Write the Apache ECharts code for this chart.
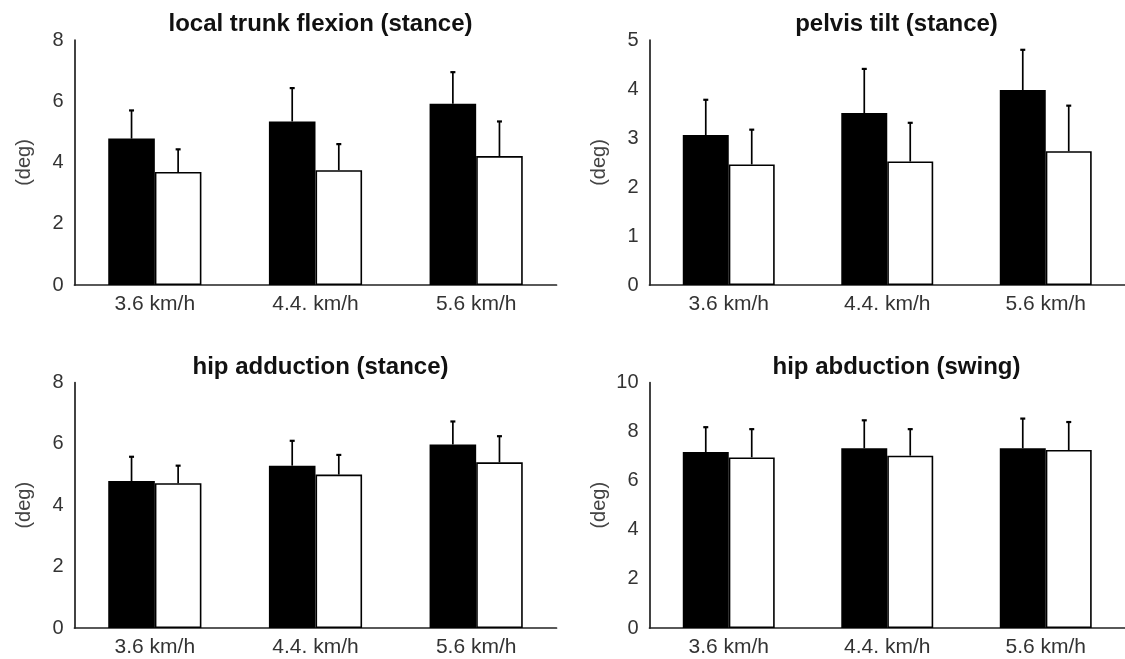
<!DOCTYPE html>
<html>
<head>
<meta charset="utf-8">
<script src="https://cdn.jsdelivr.net/npm/echarts@6/dist/echarts.min.js"></script>
<style>
html,body{margin:0;padding:0;background:#fff;}
#c{width:1125px;height:659px;}
</style>
</head>
<body>
<div id="c"></div>
<script>
// ---- data ----
const categories = ['3.6 km/h', '4.4. km/h', '5.6 km/h'];
const titles = ['local trunk flexion (stance)', 'pelvis tilt (stance)', 'hip adduction (stance)', 'hip abduction (swing)'];
const yMax = [8, 5, 8, 10];
const yInterval = [2, 1, 2, 2];

const trunkBlack = [4.78, 5.34, 5.92];
const trunkBlackSD = [0.92, 1.09, 1.03];
const trunkWhite = [3.69, 3.75, 4.21];
const trunkWhiteSD = [0.74, 0.85, 1.13];

const pelvisBlack = [3.06, 3.51, 3.98];
const pelvisBlackSD = [0.72, 0.90, 0.82];
const pelvisWhite = [2.46, 2.52, 2.73];
const pelvisWhiteSD = [0.71, 0.79, 0.93];

const hipAddBlack = [4.79, 5.29, 5.98];
const hipAddBlackSD = [0.79, 0.81, 0.75];
const hipAddWhite = [4.72, 5.00, 5.40];
const hipAddWhiteSD = [0.57, 0.64, 0.85];

const hipAbdBlack = [7.17, 7.32, 7.32];
const hipAbdBlackSD = [1.01, 1.14, 1.21];
const hipAbdWhite = [6.95, 7.02, 7.25];
const hipAbdWhiteSD = [1.15, 1.08, 1.14];

const panels = [
  {black: trunkBlack, blackSD: trunkBlackSD, white: trunkWhite, whiteSD: trunkWhiteSD},
  {black: pelvisBlack, blackSD: pelvisBlackSD, white: pelvisWhite, whiteSD: pelvisWhiteSD},
  {black: hipAddBlack, blackSD: hipAddBlackSD, white: hipAddWhite, whiteSD: hipAddWhiteSD},
  {black: hipAbdBlack, blackSD: hipAbdBlackSD, white: hipAbdWhite, whiteSD: hipAbdWhiteSD}
];

// ---- layout ----
const FONT = '"Liberation Sans", Arial, Helvetica, sans-serif';
const BAR_FRAC = 0.29;
const grids = [
  {left: 74.5, width: 482, top: 40, height: 245},
  {left: 649.5, width: 484, top: 40, height: 245},
  {left: 74.5, width: 482, top: 382.5, height: 245.5},
  {left: 649.5, width: 484, top: 382.5, height: 245.5}
];
const titleTops = [7, 7, 350, 350];

const chart = echarts.init(document.getElementById('c'), null, {renderer: 'canvas'});

function errRender(side) {
  return function (params, api) {
    const x = api.value(0), m = api.value(1), s = api.value(2);
    const band = api.size([1, 0])[0];
    const off = side * band * BAR_FRAC / 2;
    const p0 = api.coord([x, m]);
    const p1 = api.coord([x, m + s]);
    const cx = p0[0] + off;
    return {
      type: 'group',
      children: [
        {type: 'line', shape: {x1: cx, y1: p0[1], x2: cx, y2: p1[1]}, style: {stroke: '#000', lineWidth: 1.7}},
        {type: 'line', shape: {x1: cx - 2.5, y1: p1[1], x2: cx + 2.5, y2: p1[1]}, style: {stroke: '#000', lineWidth: 2.2}}
      ]
    };
  };
}

const option = {
  backgroundColor: '#fff',
  animation: false,
  title: titles.map((t, i) => ({
    text: t,
    left: grids[i].left + grids[i].width / 2,
    textAlign: 'center',
    top: titleTops[i],
    textStyle: {fontFamily: FONT, fontSize: 24, fontWeight: 'bold', color: '#111'}
  })),
  grid: grids.map(g => ({left: g.left, width: g.width, top: g.top, height: g.height, containLabel: false})),
  xAxis: grids.map((g, i) => ({
    type: 'category',
    gridIndex: i,
    data: categories,
    axisLine: {show: true, lineStyle: {color: '#222', width: 1.7}},
    axisTick: {show: false},
    axisLabel: {fontFamily: FONT, fontSize: 21, color: '#333', margin: 9},
    splitLine: {show: false}
  })),
  yAxis: grids.map((g, i) => ({
    type: 'value',
    gridIndex: i,
    min: 0,
    max: yMax[i],
    interval: yInterval[i],
    name: '(deg)',
    nameLocation: 'middle',
    nameRotate: 90,
    nameGap: 40,
    nameTextStyle: {fontFamily: FONT, fontSize: 20, color: '#444'},
    axisLine: {show: true, lineStyle: {color: '#222', width: 1.7}},
    axisTick: {show: false},
    axisLabel: {fontFamily: FONT, fontSize: 20, color: '#333', margin: 11},
    splitLine: {show: false}
  })),
  series: []
};

panels.forEach((p, i) => {
  option.series.push({
    type: 'bar', xAxisIndex: i, yAxisIndex: i, data: p.black,
    barWidth: (BAR_FRAC * 100) + '%', barGap: '0%',
    itemStyle: {color: '#000', borderColor: '#000', borderWidth: 1.6},
    z: 2
  });
  option.series.push({
    type: 'bar', xAxisIndex: i, yAxisIndex: i, data: p.white,
    barWidth: (BAR_FRAC * 100) + '%', barGap: '0%',
    itemStyle: {color: '#fff', borderColor: '#000', borderWidth: 1.6},
    z: 2
  });
  option.series.push({
    type: 'custom', xAxisIndex: i, yAxisIndex: i,
    renderItem: errRender(-1),
    data: p.black.map((v, k) => [k, v, p.blackSD[k]]),
    z: 3
  });
  option.series.push({
    type: 'custom', xAxisIndex: i, yAxisIndex: i,
    renderItem: errRender(1),
    data: p.white.map((v, k) => [k, v, p.whiteSD[k]]),
    z: 3
  });
});

chart.setOption(option);
</script>
</body>
</html>
